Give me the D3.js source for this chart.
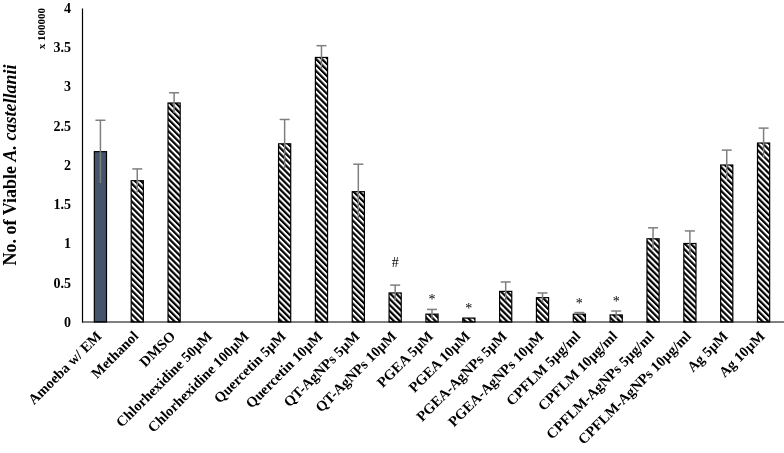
<!DOCTYPE html>
<html><head><meta charset="utf-8">
<script src="https://cdn.jsdelivr.net/npm/d3@7"></script>
<style>body{margin:0;background:#fff}svg{display:block;will-change:transform}</style>
</head><body>
<svg id="c" width="784" height="453"></svg>
<script>
const categories = ["Amoeba w/ EM","Methanol","DMSO","Chlorhexidine 50µM","Chlorhexidine 100µM","Quercetin 5µM","Quercetin 10µM","QT-AgNPs 5µM","QT-AgNPs 10µM","PGEA 5µM","PGEA 10µM","PGEA-AgNPs 5µM","PGEA-AgNPs 10µM","CPFLM 5µg/ml","CPFLM 10µg/ml","CPFLM-AgNPs 5µg/ml","CPFLM-AgNPs 10µg/ml","Ag 5µM","Ag 10µM"];
const values = [2.17,1.80,2.79,0,0,2.27,3.37,1.66,0.37,0.10,0.05,0.39,0.31,0.10,0.09,1.06,1.00,2.00,2.28];
const errors = [0.40,0.15,0.13,0,0,0.31,0.15,0.35,0.10,0.06,0.00,0.12,0.06,0.02,0.05,0.14,0.16,0.19,0.19];
const marks = ["","","","","","","","","#","*","*","","","*","*","","","",""];
const yTicks = [0,0.5,1,1.5,2,2.5,3,3.5,4];
const yTickLabels = ["0","0.5","1","1.5","2","2.5","3","3.5","4"];

const svg = d3.select("#c");
const mLeft = 82, mRight = 782, mTop = 8, mBottom = 322;
const x = d3.scaleBand().domain(categories).range([mLeft, mRight]).paddingInner(0.67).paddingOuter(0.335);
const y = d3.scaleLinear().domain([0,4]).range([mBottom, mTop]);

const defs = svg.append("defs");
const pat = defs.append("pattern").attr("id","hatch").attr("patternUnits","userSpaceOnUse")
  .attr("width",4.2).attr("height",4.2).attr("patternTransform","rotate(-45)");
pat.append("rect").attr("width",4.2).attr("height",4.2).attr("fill","#fff");
pat.append("rect").attr("width",2.2).attr("height",4.2).attr("fill","#000");

const font = "'Liberation Serif','Times New Roman',serif";

// bars
svg.append("g").selectAll("rect").data(categories).join("rect")
  .attr("x", d => x(d))
  .attr("y", (d,i) => y(values[i]))
  .attr("width", x.bandwidth())
  .attr("height", (d,i) => mBottom - y(values[i]))
  .attr("fill", (d,i) => i === 0 ? "#44546a" : "url(#hatch)")
  .attr("stroke", "#000").attr("stroke-width", 1.2)
  .attr("display", (d,i) => values[i] > 0 ? null : "none");

// error bars
const eg = svg.append("g").attr("stroke","#7f7f7f").attr("stroke-width",1.5);
categories.forEach((c,i) => {
  if (values[i] <= 0 || errors[i] <= 0) return;
  const cx = x(c) + x.bandwidth()/2;
  eg.append("line").attr("x1",cx).attr("x2",cx).attr("y1",y(values[i]+errors[i])).attr("y2",y(values[i]-errors[i]));
  eg.append("line").attr("x1",cx-5).attr("x2",cx+5).attr("y1",y(values[i]+errors[i])).attr("y2",y(values[i]+errors[i]));
});

// significance marks
svg.append("g").selectAll("text").data(categories).join("text")
  .attr("x", d => x(d) + x.bandwidth()/2)
  .attr("y", (d,i) => y(values[i]+errors[i]) - (marks[i] === "#" ? 18 : 5))
  .attr("text-anchor","middle").attr("fill","#000")
  .attr("font-family",font).attr("font-size", 14)
  .text((d,i) => marks[i]);

// axes
const ya = d3.axisLeft(y).tickValues(yTicks).tickFormat((d,i) => yTickLabels[i]).tickSize(0).tickPadding(11);
const yg = svg.append("g").attr("transform",`translate(${mLeft},0)`).call(ya);
yg.select(".domain").attr("stroke","#000").attr("stroke-width",1.2);
yg.selectAll("text").attr("font-family",font).attr("font-size",14).attr("font-weight","bold").attr("fill","#000");

const xa = d3.axisBottom(x).tickSize(0).tickPadding(0);
const xg = svg.append("g").attr("transform",`translate(0,${mBottom})`).call(xa);
xg.select(".domain").attr("d",`M${mLeft},0H784`).attr("stroke","#000").attr("stroke-width",1.2);
xg.selectAll("text")
  .attr("font-family",font).attr("font-size",14.5).attr("font-weight","bold").attr("fill","#000")
  .attr("text-anchor","end").attr("dy",0)
  .attr("transform","translate(2,15) rotate(-45)");

// axis titles
svg.append("text").attr("transform","translate(45,8) rotate(-90)")
  .attr("text-anchor","end").attr("font-family",font).attr("font-size",11).attr("font-weight","bold")
  .text("x 100000");
const t = svg.append("text").attr("transform","translate(16,165) rotate(-90)")
  .attr("text-anchor","middle").attr("font-family",font).attr("font-size",18).attr("font-weight","bold");
t.append("tspan").text("No. of Viable ");
t.append("tspan").attr("font-style","italic").text("A. castellanii");
</script>
</body></html>
